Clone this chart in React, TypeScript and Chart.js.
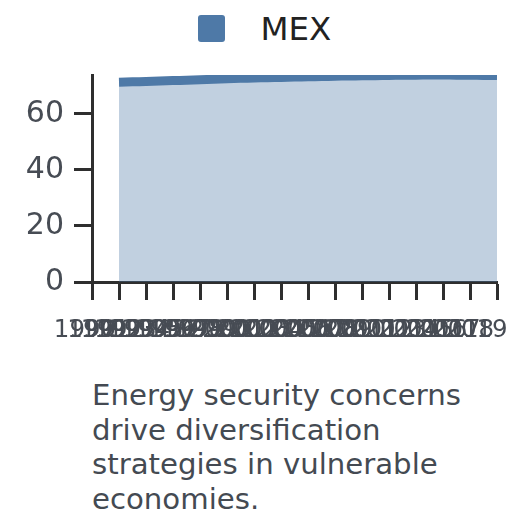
import { useEffect, useRef } from 'react';
import { Chart, registerables } from 'chart.js';

Chart.register(...registerables);

const seriesName = 'MEX';
const categories = [
  '1990', '1991', '1992', '1993', '1994', '1995', '1996', '1997', '1998', '1999',
  '2000', '2001', '2002', '2003', '2004', '2005', '2006', '2007', '2008', '2009',
  '2010', '2011', '2012', '2013', '2014', '2015', '2016', '2017', '2018', '2019', '',
];
const mexValues: (number | null)[] = [
  null, null, 71.25, 71.4, 71.55, 71.7, 71.85, 72.0, 72.15, 72.3,
  72.5, 72.65, 72.8, 72.9, 73.0, 73.1, 73.2, 73.3, 73.4, 73.5,
  73.55, 73.6, 73.7, 73.75, 73.8, 73.85, 73.85, 73.8, 73.75, 73.7, 73.65,
];
const yTicks = [0, 20, 40, 60];
const caption = 'Energy security concerns drive diversification strategies in vulnerable economies.';

const FONT = "'DejaVu Sans', sans-serif";
const BLUE = '#4e79a7';
const AXIS = '#2e2e2e';
const TEXT = '#474c54';

function zeroPadding(s: any) {
  s.paddingTop = 0;
  s.paddingBottom = 0;
  s.paddingLeft = 0;
  s.paddingRight = 0;
}

export default function App() {
  const ref = useRef<HTMLCanvasElement | null>(null);

  useEffect(() => {
    if (!ref.current) return;
    const maxVal = Math.max(...(mexValues.filter((v) => v !== null) as number[]));
    const chart = new Chart(ref.current, {
      type: 'line',
      data: {
        labels: categories,
        datasets: [
          {
            label: seriesName,
            data: mexValues,
            borderColor: BLUE,
            backgroundColor: 'rgba(78,121,167,0.35)',
            borderWidth: 9,
            fill: 'origin',
            pointRadius: 0,
            pointHoverRadius: 0,
            tension: 0.4,
            spanGaps: false,
          },
        ],
      },
      options: {
        animation: false,
        responsive: true,
        maintainAspectRatio: false,
        layout: { padding: { top: 17, right: 23, bottom: 0, left: 0 } },
        plugins: {
          legend: { display: false },
          tooltip: { enabled: false },
          title: { display: false },
        },
        scales: {
          x: {
            type: 'category',
            offset: false,
            grid: {
              display: true,
              drawOnChartArea: false,
              drawTicks: true,
              tickLength: 18,
              tickWidth: 3,
              tickColor: (ctx: any) => (ctx.index % 2 === 0 ? AXIS : 'rgba(0,0,0,0)'),
            },
            border: { display: true, color: AXIS, width: 3 },
            ticks: {
              autoSkip: false,
              maxRotation: 0,
              minRotation: 0,
              labelOffset: -7,
              padding: 16,
              color: TEXT,
              font: { family: FONT, size: 24.5 },
            },
            afterFit: (s: any) => {
              s.height = 76;
              zeroPadding(s);
            },
          },
          y: {
            min: 0,
            max: maxVal,
            grid: {
              display: true,
              drawOnChartArea: false,
              drawTicks: true,
              tickLength: 18,
              tickWidth: 3,
              tickColor: AXIS,
            },
            border: { display: true, color: AXIS, width: 3 },
            ticks: {
              includeBounds: false,
              padding: 10,
              color: TEXT,
              font: { family: FONT, size: 30 },
            },
            afterBuildTicks: (s: any) => {
              s.ticks = yTicks.map((v) => ({ value: v }));
            },
            afterFit: (s: any) => {
              s.width = 84;
              zeroPadding(s);
            },
          },
        },
      },
    });
    return () => chart.destroy();
  }, []);

  return (
    <div style={{ position: 'relative', width: 512, height: 512, fontFamily: FONT }}>
      <div
        style={{
          position: 'absolute',
          left: 190,
          top: 7,
          width: 27,
          height: 27,
          background: BLUE,
          borderRadius: 3,
        }}
      />
      <div
        style={{
          position: 'absolute',
          left: 252.5,
          top: 4.9,
          fontSize: 32.5,
          lineHeight: '32px',
          color: '#222222',
          whiteSpace: 'nowrap',
        }}
      >
        {seriesName}
      </div>
      <div style={{ position: 'absolute', left: 0, top: 50, width: 512, height: 300 }}>
        <canvas ref={ref} />
      </div>
      <div
        style={{
          position: 'absolute',
          left: 84,
          top: 370,
          width: 400,
          fontSize: 29.2,
          lineHeight: '34.5px',
          color: '#444a52',
        }}
      >
        {caption}
      </div>
    </div>
  );
}
